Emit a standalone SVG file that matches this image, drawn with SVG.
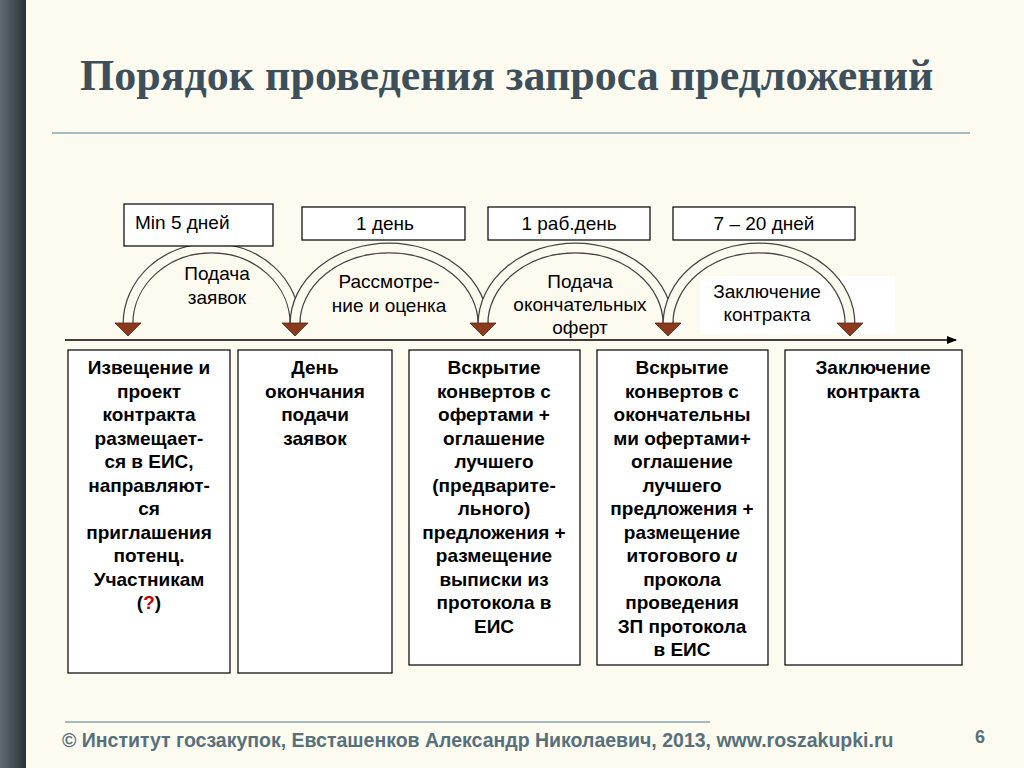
<svg xmlns="http://www.w3.org/2000/svg" width="1024" height="768" viewBox="0 0 1024 768">
<defs>
<linearGradient id="side" x1="0" x2="1"><stop offset="0" stop-color="#5d6a70"/><stop offset="0.7" stop-color="#3b454a"/><stop offset="1" stop-color="#2a3236"/></linearGradient>
<marker id="ax" markerWidth="10" markerHeight="8" refX="9" refY="4" orient="auto" markerUnits="userSpaceOnUse"><path d="M0,0 L10,4 L0,8 Z" fill="#000"/></marker>
</defs>
<style>
.t{font-family:"Liberation Sans",Arial,sans-serif;font-size:19px;fill:#000}
.b{font-weight:bold;text-anchor:middle}
.c{text-anchor:middle}
.box{fill:#fff;stroke:#000;stroke-width:1.2}
.arcO{fill:none;stroke:#444;stroke-width:11}
.arcI{fill:none;stroke:#fdfbf0;stroke-width:8.5}
.tri{fill:#8b3a1e;stroke:#5a2410;stroke-width:0.8}
</style>
<rect width="1024" height="768" fill="#fdfbf0"/>
<rect width="26" height="768" fill="url(#side)"/>
<text x="80" y="90" font-family="Liberation Serif,serif" font-size="44" font-weight="bold" fill="#3c4f5a">Порядок проведения запроса предложений</text>
<line x1="52" y1="133" x2="970" y2="133" stroke="#8aa6ae" stroke-width="1.5"/>

<rect x="700" y="276" width="195" height="58" fill="#fff"/>
<g id="arcs">
<path class="arcO" d="M128,324 A83.5,76 0 0 1 295,324"/><path class="arcI" d="M128,324 A83.5,76 0 0 1 295,324"/>
<path class="arcO" d="M295,324 A94,76 0 0 1 483,324"/><path class="arcI" d="M295,324 A94,76 0 0 1 483,324"/>
<path class="arcO" d="M483,324 A92.5,76 0 0 1 668,324"/><path class="arcI" d="M483,324 A92.5,76 0 0 1 668,324"/>
<path class="arcO" d="M668,324 A91,76 0 0 1 850,324"/><path class="arcI" d="M668,324 A91,76 0 0 1 850,324"/>
<path class="tri" d="M115,323 L141,323 L128,336 Z"/>
<path class="tri" d="M282,323 L308,323 L295,336 Z"/>
<path class="tri" d="M470,323 L496,323 L483,336 Z"/>
<path class="tri" d="M655,323 L681,323 L668,336 Z"/>
<path class="tri" d="M837,323 L863,323 L850,336 Z"/>
<line x1="65" y1="340" x2="956" y2="340" stroke="#000" stroke-width="1.5" marker-end="url(#ax)"/>
</g>
<g id="arc-labels" class="t">
<text class="c" x="217" y="280">Подача</text><text class="c" x="217" y="304">заявок</text>
<text class="c" x="389" y="288">Рассмотре-</text><text class="c" x="389" y="312">ние и оценка</text>
<text class="c" x="580" y="288">Подача</text><text class="c" x="580" y="311">окончательных</text><text class="c" x="580" y="334">оферт</text>
<text class="c" x="767" y="298">Заключение</text><text class="c" x="767" y="321">контракта</text>
</g>
<g id="dur1"><rect class="box" x="124" y="204" width="149" height="42"/><text class="t" x="135" y="229">Min 5 дней</text></g>
<g id="dur2"><rect class="box" x="302" y="207" width="163" height="33"/><text class="t c" x="385" y="230">1 день</text></g>
<g id="dur3"><rect class="box" x="488" y="207" width="162" height="33"/><text class="t c" x="569" y="230">1 раб.день</text></g>
<g id="dur4"><rect class="box" x="673" y="207" width="182" height="33"/><text class="t c" x="764" y="230">7 – 20 дней</text></g>

<g id="step1"><rect class="box" x="68" y="350" width="162" height="323"/>
<text class="t b" x="149" y="374">Извещение и<tspan x="149" dy="23.5">проект</tspan><tspan x="149" dy="23.5">контракта</tspan><tspan x="149" dy="23.5">размещает-</tspan><tspan x="149" dy="23.5">ся в ЕИС,</tspan><tspan x="149" dy="23.5">направляют-</tspan><tspan x="149" dy="23.5">ся</tspan><tspan x="149" dy="23.5">приглашения</tspan><tspan x="149" dy="23.5">потенц.</tspan><tspan x="149" dy="23.5">Участникам</tspan><tspan x="149" dy="23.5">(<tspan fill="#c00000">?</tspan>)</tspan></text></g>
<g id="step2"><rect class="box" x="238" y="350" width="154" height="323"/>
<text class="t b" x="315" y="374">День<tspan x="315" dy="23.5">окончания</tspan><tspan x="315" dy="23.5">подачи</tspan><tspan x="315" dy="23.5">заявок</tspan></text></g>
<g id="step3"><rect class="box" x="409" y="350" width="171" height="315"/>
<text class="t b" x="494" y="374">Вскрытие<tspan x="494" dy="23.5">конвертов с</tspan><tspan x="494" dy="23.5">офертами +</tspan><tspan x="494" dy="23.5">оглашение</tspan><tspan x="494" dy="23.5">лучшего</tspan><tspan x="494" dy="23.5">(предварите-</tspan><tspan x="494" dy="23.5">льного)</tspan><tspan x="494" dy="23.5">предложения +</tspan><tspan x="494" dy="23.5">размещение</tspan><tspan x="494" dy="23.5">выписки из</tspan><tspan x="494" dy="23.5">протокола в</tspan><tspan x="494" dy="23.5">ЕИС</tspan></text></g>
<g id="step4"><rect class="box" x="597" y="350" width="171" height="315"/>
<text class="t b" x="682" y="374">Вскрытие<tspan x="682" dy="23.5">конвертов с</tspan><tspan x="682" dy="23.5">окончательны</tspan><tspan x="682" dy="23.5">ми офертами+</tspan><tspan x="682" dy="23.5">оглашение</tspan><tspan x="682" dy="23.5">лучшего</tspan><tspan x="682" dy="23.5">предложения +</tspan><tspan x="682" dy="23.5">размещение</tspan><tspan x="682" dy="23.5">итогового <tspan font-style="italic">и</tspan></tspan><tspan x="682" dy="23.5">прокола</tspan><tspan x="682" dy="23.5">проведения</tspan><tspan x="682" dy="23.5">ЗП протокола</tspan><tspan x="682" dy="23.5">в ЕИС</tspan></text></g>
<g id="step5"><rect class="box" x="785" y="350" width="177" height="315"/>
<text class="t b" x="873" y="374">Заключение<tspan x="873" dy="23.5">контракта</tspan></text></g>

<line x1="65" y1="722" x2="710" y2="722" stroke="#8aa6ae" stroke-width="1.5"/>
<text x="62" y="747" font-family="Liberation Sans,Arial,sans-serif" font-size="19.5" font-weight="bold" fill="#56707c">© Институт госзакупок, Евсташенков Александр Николаевич, 2013, www.roszakupki.ru</text>
<text x="980" y="743" font-family="Liberation Sans,Arial,sans-serif" font-size="18" font-weight="bold" fill="#56707c" text-anchor="middle">6</text>
</svg>
